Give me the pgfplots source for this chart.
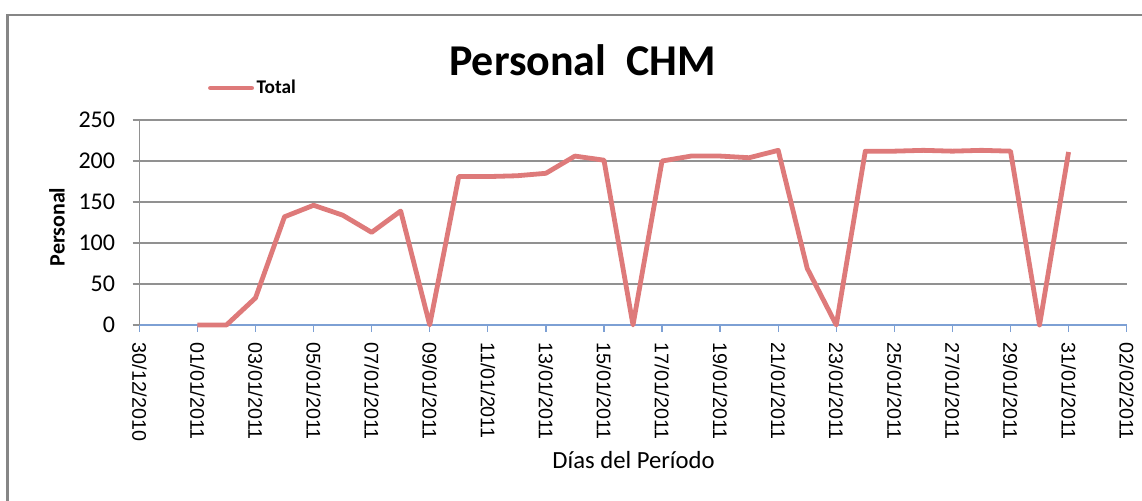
\documentclass[border=0pt]{standalone}
\usepackage{pgfplots}
\pgfplotsset{compat=1.18}
\usepackage{fontspec}
\setmainfont{Carlito}
\newfontfamily\arialf{Liberation Sans}
\definecolor{serie}{RGB}{222,122,122}
\definecolor{xblue}{RGB}{125,160,212}
\definecolor{gridg}{RGB}{145,145,145}
\begin{document}
\begin{tikzpicture}
\useasboundingbox (-104.5pt,-131.25pt) rectangle (752pt,243.75pt);
\draw[color=gray!95, line width=2.2pt] (-99.2pt,-150pt) -- (-99.2pt,232.5pt) -- (770pt,232.5pt);
\begin{axis}[
  at={(0pt,0pt)}, anchor=south west,
  scale only axis,
  width=740.5pt, height=153.75pt,
  xmin=0, xmax=34, ymin=0, ymax=250,
  axis x line*=bottom, axis y line*=left,
  x axis line style={draw=xblue, line width=1pt, -},
  y axis line style={draw=gridg, line width=1pt, -},
  xtick={0,2,...,34},
  xticklabels={30/12/2010,01/01/2011,03/01/2011,05/01/2011,07/01/2011,09/01/2011,11/01/2011,13/01/2011,15/01/2011,17/01/2011,19/01/2011,21/01/2011,23/01/2011,25/01/2011,27/01/2011,29/01/2011,31/01/2011,02/02/2011},
  ytick={0,50,...,250},
  tick align=outside,
  major tick length=5pt,
  x tick style={draw=xblue, line width=1pt},
  y tick style={draw=gridg, line width=1pt},
  ymajorgrids,
  major grid style={draw=gridg, line width=1.1pt},
  x tick label style={font=\arialf\fontsize{14.8pt}{16pt}\selectfont, rotate=-90, anchor=west, inner sep=0pt, xshift=8pt},
  y tick label style={font=\fontsize{18pt}{20pt}\selectfont, anchor=east, inner sep=0pt, xshift=-13pt},
  /pgf/number format/assume math mode=true,
  title={\textbf{Personal\ \ CHM}},
  title style={font=\fontsize{33pt}{36pt}\selectfont, at={(axis description cs:0.4489,1.176)}, anchor=base, inner sep=0pt},
  xlabel={Días del Período},
  every axis x label/.style={font=\fontsize{18.5pt}{20pt}\selectfont, at={(axis description cs:0.5005,-0.702)}, anchor=base, inner sep=0pt},
  ylabel={\textbf{Personal}},
  every axis y label/.style={font=\fontsize{16.5pt}{18pt}\selectfont, at={(axis description cs:-0.0834,0.478)}, anchor=center, rotate=90, inner sep=0pt},
  legend style={at={(axis description cs:0.0696,1.156)}, anchor=west, draw=none, fill=none, font=\bfseries\fontsize{14.5pt}{16pt}\selectfont, inner sep=0pt, outer sep=0pt},
  legend cell align=left,
  legend image code/.code={\draw[serie, line width=3.5pt, line cap=round] (0pt,0pt) -- (31pt,0pt);},
  clip=false,
]
\addplot[serie, line width=3.6pt, line join=round] coordinates {
(2,0) (3,0) (4,33) (5,132) (6,146) (7,134) (8,113) (9,139) (10,0)
(11,181) (12,181) (13,182) (14,185) (15,206) (16,201) (17,0)
(18,200) (19,206) (20,206) (21,204) (22,213) (23,69) (24,0)
(25,212) (26,212) (27,213) (28,212) (29,213) (30,212) (31,0) (32,211)
};
\addlegendentry{Total}
\end{axis}
\end{tikzpicture}
\end{document}
